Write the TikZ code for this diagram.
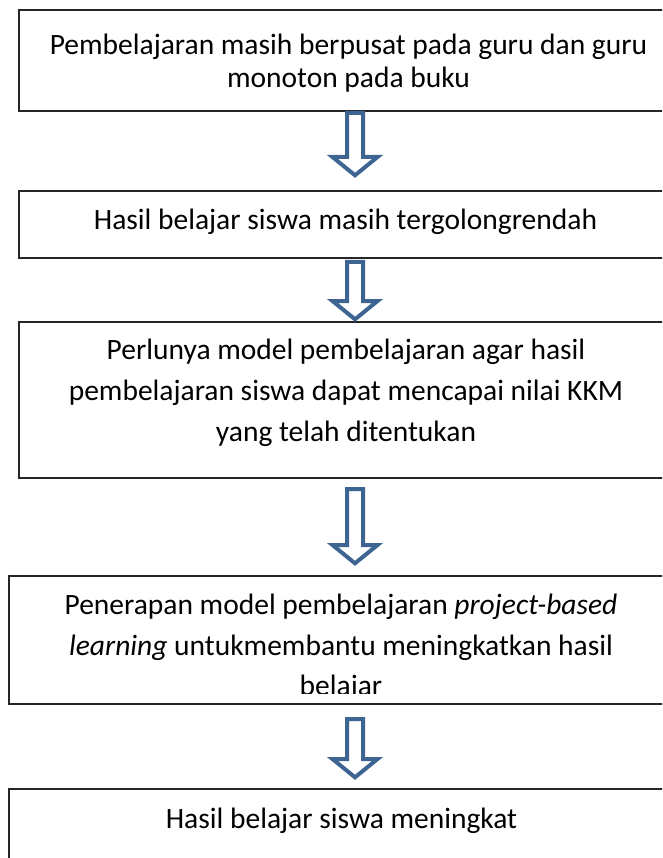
\documentclass[tikz,border=0pt]{standalone}
\usepackage{fontspec}
\setmainfont{Carlito}
\usepackage{tikz}
\usepackage{xcolor}
\usetikzlibrary{positioning, calc}

\definecolor{arrowblue}{RGB}{62,100,146}

\tikzset{
  flowbox/.style={draw=black!85, line width=1.7pt, fill=white, inner sep=0pt, outer sep=0pt, anchor=north west},
  boxtext/.style={align=center, inner sep=0pt, anchor=north},
  flowarrow/.style={draw=arrowblue, line width=4pt, fill=white, line join=miter}
}

% block arrow between two boxes: from, to, top gap, bottom gap
\newcommand{\flowarrow}[4]{%
  \draw[flowarrow] let \p1=(#1.south), \p2=(#2.north) in
    (347pt,\y1-#3pt-2pt) -- (363pt,\y1-#3pt-2pt)
    -- (363pt,\y2+#4pt+21pt) -- (377.5pt,\y2+#4pt+21pt)
    -- (355pt,\y2+#4pt+2.7pt) -- (332.5pt,\y2+#4pt+21pt)
    -- (347pt,\y2+#4pt+21pt) -- cycle;}

\begin{document}
\begin{tikzpicture}[x=1pt, y=-1pt]
\useasboundingbox (0,0) rectangle (662,858);
\clip (0,0) rectangle (662,858);

% Boxes
\node[flowbox, minimum width=656, minimum height=101] (b1) at (19,10) {};
\node[flowbox, minimum width=656, minimum height=67] (b2) at (19,191) {};
\node[flowbox, minimum width=656, minimum height=156] (b3) at (19,322) {};
\node[flowbox, minimum width=664, minimum height=128] (b4) at (9,576) {};
\node[flowbox, minimum width=664, minimum height=100] (b5) at (9,789) {};

% Texts
\node[boxtext, font=\fontsize{29.5}{33}\selectfont] (t1) at ($(b1.north)+(1.5,24)$)
  {Pembelajaran masih berpusat pada guru dan guru\\monoton pada buku};
\node[boxtext, font=\fontsize{29.5}{36}\selectfont] (t2) at ($(b2.north)+(-1.5,18)$)
  {Hasil belajar siswa masih tergolongrendah};
\node[boxtext, font=\fontsize{29.5}{41}\selectfont] (t3) at ($(b3.north)+(-1,17)$)
  {Perlunya model pembelajaran agar hasil\\pembelajaran siswa dapat mencapai nilai KKM\\yang telah ditentukan};
\begin{scope}
\clip (b4.north west) rectangle ($(b4.south east)+(0,-11)$);
\node[boxtext, font=\fontsize{29.5}{40.5}\selectfont] (t4) at ($(b4.north)+(0,18)$)
  {Penerapan model pembelajaran \textit{project-based}\\\textit{learning} untukmembantu meningkatkan hasil\\belajar};
\end{scope}
\node[boxtext, font=\fontsize{29.5}{36}\selectfont] (t5) at ($(b5.north)+(0.5,19)$)
  {Hasil belajar siswa meningkat};

% Arrows
\flowarrow{b1}{b2}{0}{13}
\flowarrow{b2}{b3}{2}{0}
\flowarrow{b3}{b4}{9}{10}
\flowarrow{b4}{b5}{13}{9}
\end{tikzpicture}
\end{document}
